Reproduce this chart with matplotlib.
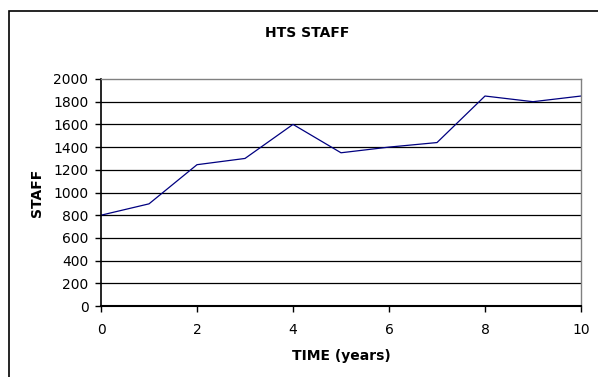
import matplotlib
matplotlib.use("Agg")
import matplotlib.pyplot as plt
from matplotlib.patches import Rectangle

# staff head count per year
years = [0, 1, 2, 3, 4, 5, 6, 7, 8, 9, 10]
staff = [800, 900, 1245, 1300, 1600, 1350, 1400, 1440, 1850, 1800, 1850]

y_ticks = list(range(0, 2001, 200))
x_ticks = [0, 2, 4, 6, 8, 10]

W, H = 598, 377
fig = plt.figure(figsize=(W / 100, H / 100), dpi=100)
plt.rcParams['font.family'] = ['DejaVu Sans']

# outer chart border (runs off the bottom and right edge)
fig.patches.append(Rectangle((9 / W, -0.1), 1.2, 1 - 11 / H + 0.1,
                             transform=fig.transFigure, fill=False,
                             edgecolor='black', linewidth=1.2))

ax = fig.add_axes([101 / W, 1 - 306 / H, (581 - 101) / W, (306 - 79) / H])
ax.plot(years, staff, color='#000080', linewidth=0.9)

ax.set_xlim(0, 10)
ax.set_ylim(0, 2000)
ax.set_xticks(x_ticks)
ax.set_yticks(y_ticks)
ax.tick_params(axis='both', labelsize=10, length=4, width=1, direction='out',
               colors='black', pad=5)
ax.tick_params(axis='x', pad=8)

for y in y_ticks[1:-1]:
    ax.axhline(y, color='black', linewidth=0.9, zorder=1)

ax.spines['left'].set_color('black')
ax.spines['bottom'].set_color('black')
ax.spines['left'].set_linewidth(1.2)
ax.spines['bottom'].set_linewidth(1.5)
ax.spines['top'].set_color('#808080')
ax.spines['right'].set_color('#808080')
ax.spines['top'].set_linewidth(1)
ax.spines['right'].set_linewidth(1)

ax.set_xlabel('TIME (years)', fontsize=10, fontweight='bold', labelpad=9)
ax.set_ylabel('STAFF', fontsize=10, fontweight='bold', labelpad=7)

fig.text(307 / W, 1 - 33 / H, 'HTS STAFF', fontsize=10, fontweight='bold',
         ha='center', va='center')

fig.savefig('out.png', dpi=100)
